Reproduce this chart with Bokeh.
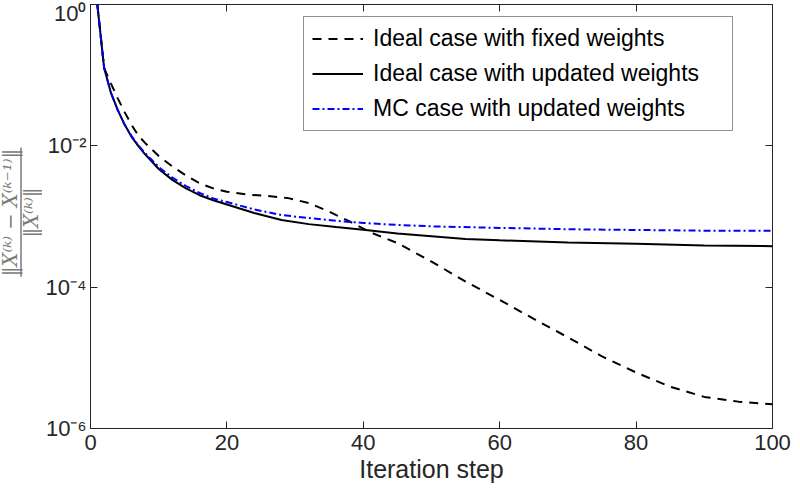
import math
from bokeh.plotting import figure
from bokeh.layouts import row
from bokeh.models import LinearAxis, LogAxis, FixedTicker, Legend, LegendItem
from bokeh.core.properties import value
from bokeh.embed import file_html
from bokeh.resources import INLINE

# ---- data ----
iter_fixed = [1, 2, 3, 4, 5, 6, 7, 8, 9, 10, 12, 14, 16, 18, 20, 23, 26, 29, 32, 35,
              38, 41, 45, 50, 55, 60, 65, 70, 75, 80, 85, 90, 95, 100]
err_fixed = [1.0, 1.26e-1, 7.6e-2, 4.7e-2, 3.0e-2, 2.0e-2, 1.4e-2, 1.1e-2, 8.9e-3, 7.2e-3,
             5.1e-3, 3.8e-3, 2.95e-3, 2.5e-3, 2.24e-3, 2.04e-3, 1.95e-3, 1.82e-3, 1.55e-3,
             1.17e-3, 8.5e-4, 6.0e-4, 4.2e-4, 2.3e-4, 1.2e-4, 6.6e-5, 3.55e-5, 1.95e-5,
             1.05e-5, 6.2e-6, 3.9e-6, 2.8e-6, 2.4e-6, 2.2e-6]

iter_upd = [1, 2, 3, 4, 5, 6, 7, 8, 9, 10, 12, 14, 16, 18, 20, 24, 28, 32, 36, 40,
            45, 50, 55, 60, 70, 80, 90, 100]
err_upd = [1.0, 1.26e-1, 5.6e-2, 3.2e-2, 2.0e-2, 1.35e-2, 1.0e-2, 7.6e-3, 6.0e-3, 4.7e-3,
           3.3e-3, 2.5e-3, 2.0e-3, 1.7e-3, 1.48e-3, 1.12e-3, 8.9e-4, 7.8e-4, 7.1e-4, 6.5e-4,
           5.75e-4, 5.25e-4, 4.8e-4, 4.6e-4, 4.3e-4, 4.1e-4, 3.9e-4, 3.8e-4]

iter_mc = [1, 2, 3, 4, 5, 6, 7, 8, 9, 10, 12, 14, 16, 18, 20, 24, 28, 32, 36, 40,
           45, 50, 60, 70, 80, 90, 100]
err_mc = [1.0, 1.26e-1, 5.6e-2, 3.2e-2, 2.0e-2, 1.38e-2, 1.02e-2, 7.9e-3, 6.3e-3, 5.0e-3,
          3.55e-3, 2.7e-3, 2.15e-3, 1.8e-3, 1.6e-3, 1.26e-3, 1.05e-3, 9.5e-4, 8.7e-4, 8.1e-4,
          7.6e-4, 7.25e-4, 6.9e-4, 6.6e-4, 6.45e-4, 6.3e-4, 6.3e-4]

series_names = ["Ideal case with fixed weights",
                "Ideal case with updated weights",
                "MC case with updated weights"]
x_ticks = [0, 20, 40, 60, 80, 100]
y_ticks = [1e-6, 1e-4, 1e-2, 1.0]
y_tick_labels = ["10\u207b\u2076", "10\u207b\u2074", "10\u207b\u00b2", "10\u2070"]
x_label = "Iteration step"
y_label_num = "\u2016X\u207d\u1d4f\u207e \u2212 X\u207d\u1d4f\u207b\u00b9\u207e\u2016"
y_label_den = "\u2016X\u207d\u1d4f\u207e\u2016"

AX = "#262626"
LABEL_GRAY = "#7a7a7a"
FONT = "Liberation Sans"
H = 489
LW = 42

# ---- main plot ----
p = figure(width=792 - LW, height=H, x_range=(0, 100), y_range=(1e-6, 1),
           y_axis_type="log", output_backend="svg", toolbar_location=None,
           min_border_left=95 - 8 - LW, min_border_right=20, min_border_top=4,
           min_border_bottom=61)
p.xgrid.visible = False
p.ygrid.visible = False
p.outline_line_color = AX
p.outline_line_width = 1
p.background_fill_color = "white"
p.border_fill_color = "white"

r_fixed = p.line(iter_fixed, err_fixed, line_color="black", line_width=2,
                 line_dash="9 7")
r_upd = p.line(iter_upd, err_upd, line_color="black", line_width=2)
r_mc = p.line(iter_mc, err_mc, line_color="#0000ff", line_width=2,
              line_dash="7 3 2 3")

xa = p.xaxis[0]
xa.ticker = FixedTicker(ticks=x_ticks)
ya = p.yaxis[0]
ya.ticker = FixedTicker(ticks=y_ticks)
ya.major_label_overrides = {t: s for t, s in zip(y_ticks, y_tick_labels)}
for ax in (xa, ya):
    ax.axis_line_color = AX
    ax.major_tick_line_color = AX
    ax.major_tick_in = 7
    ax.major_tick_out = 0
    ax.minor_tick_line_color = None
    ax.major_label_text_font = FONT
    ax.major_label_text_font_size = "22px"
    ax.major_label_text_color = AX
xa.major_label_standoff = 6
ya.major_label_standoff = 4
xa.axis_label = x_label
xa.axis_label_text_font = FONT
xa.axis_label_text_font_size = "25px"
xa.axis_label_text_font_style = "normal"
xa.axis_label_text_color = AX
xa.axis_label_standoff = 2

top = LinearAxis(ticker=FixedTicker(ticks=x_ticks), major_label_text_font_size="1px",
                 major_label_text_color=None, axis_line_color=None,
                 major_tick_line_color=AX, major_tick_in=7, major_tick_out=0,
                 minor_tick_line_color=None, major_label_standoff=0)
right = LogAxis(ticker=FixedTicker(ticks=y_ticks), major_label_text_font_size="1px",
                major_label_text_color=None, axis_line_color=None,
                major_tick_line_color=AX, major_tick_in=7, major_tick_out=0,
                minor_tick_line_color=None, major_label_standoff=0)
p.add_layout(top, "above")
p.add_layout(right, "right")

legend = Legend(items=[LegendItem(label=series_names[0], renderers=[r_fixed]),
                       LegendItem(label=series_names[1], renderers=[r_upd]),
                       LegendItem(label=series_names[2], renderers=[r_mc])],
                location=(213, 297))
legend.label_text_font = FONT
legend.label_text_font_size = "23px"
legend.label_text_color = "black"
legend.border_line_color = AX
legend.border_line_width = 1
legend.padding = 8
legend.spacing = 8
legend.margin = 0
legend.label_height = 25
legend.glyph_height = 25
legend.glyph_width = 51
legend.label_standoff = 10
legend.label_width = 351
legend.background_fill_alpha = 1
p.add_layout(legend)

# ---- narrow panel (shares the y scale) holding the rotated fraction label ----
lf = figure(width=LW, height=H, x_range=(0, LW), y_range=p.y_range,
            y_axis_type="log", output_backend="svg", toolbar_location=None,
            x_axis_location=None, y_axis_location=None, min_border=0)
lf.outline_line_color = None
lf.xgrid.visible = False
lf.ygrid.visible = False
lf.border_fill_color = "white"
y_mid = 1.14e-3
lf.text(x=[10, 30.5], y=[y_mid, y_mid], text=[y_label_num, y_label_den],
        angle=math.pi / 2, text_align="center", text_baseline="middle",
        text_font=value("DejaVu Serif"), text_font_style="italic",
        text_font_size="19.5px", text_color=LABEL_GRAY)
lf.segment(x0=[20.5], y0=[1.4e-4], x1=[20.5], y1=[9.5e-3], line_color=LABEL_GRAY,
           line_width=1.5)

layout = row(lf, p, spacing=0)
open("out.html", "w").write(file_html(layout, INLINE))
